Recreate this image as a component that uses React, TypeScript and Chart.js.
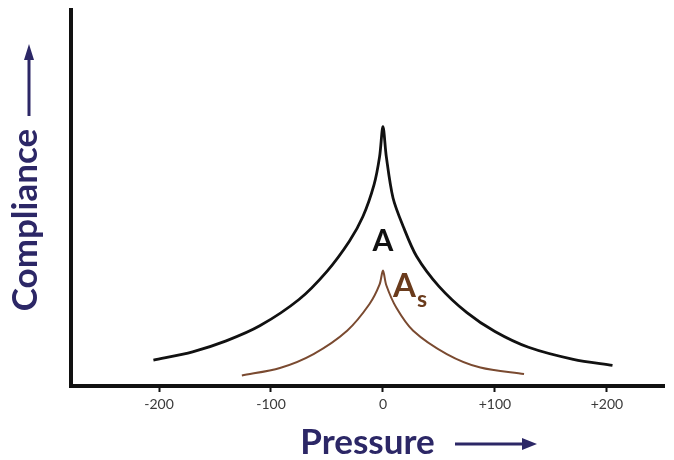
import React, { useEffect, useRef } from "react";
import { Chart, registerables } from "chart.js";

Chart.register(...registerables);

// Curve A (black)
const curveAPressure = [-205, -170, -140, -110, -75, -50, -30, -18, -8, -3, 0, 3, 9, 18, 30, 50, 75, 100, 130, 170, 205];
const curveACompliance = [6.9, 9.1, 12, 16, 23, 30.5, 38.5, 45, 53.5, 61, 69, 61, 50, 42.5, 34.5, 26.5, 19.5, 14.5, 10.3, 7.1, 5.5];

// Curve As (brown)
const curveAsPressure = [-126, -92, -62, -32, -12, -3, 0, 3, 12, 27, 57, 87, 126];
const curveAsCompliance = [2.8, 4.8, 8.5, 14.7, 21.8, 27, 30.7, 26.8, 20.8, 14.7, 8.5, 4.9, 3.2];

// Axis ticks
const tickValues = [-200, -100, 0, 100, 200];
const tickLabels = ["-200", "-100", "0", "+100", "+200"];

const xTitle = "Pressure";
const yTitle = "Compliance";
const labelA = { text: "A", x: 0, y: 38.5 };
const labelAs = { text: "A", sub: "s", x: 9, y: 26.5 };

const NAVY = "#2c2766";
const BROWN_LINE = "#7a4a30";
const BROWN_TEXT = "#6a3b1c";

const decorPlugin = {
  id: "decor",
  afterDraw(chart: any) {
    const ctx = chart.ctx;
    const xs = chart.scales.x;
    const ys = chart.scales.y;
    ctx.save();
    // Y axis title
    ctx.fillStyle = NAVY;
    ctx.font = "bold 35px Lato";
    ctx.textAlign = "center";
    ctx.textBaseline = "alphabetic";
    ctx.translate(37, 220);
    ctx.rotate(-Math.PI / 2);
    ctx.fillText(yTitle, 0, 0);
    ctx.restore();

    // arrows
    ctx.save();
    ctx.strokeStyle = NAVY;
    ctx.fillStyle = NAVY;
    ctx.lineWidth = 3;
    // up arrow
    ctx.beginPath();
    ctx.moveTo(29, 116);
    ctx.lineTo(29, 56);
    ctx.stroke();
    ctx.beginPath();
    ctx.moveTo(29, 44);
    ctx.lineTo(24, 60);
    ctx.lineTo(34, 60);
    ctx.closePath();
    ctx.fill();
    // right arrow
    ctx.beginPath();
    ctx.moveTo(455, 444);
    ctx.lineTo(526, 444);
    ctx.stroke();
    ctx.beginPath();
    ctx.moveTo(537, 444);
    ctx.lineTo(522, 438);
    ctx.lineTo(522, 450);
    ctx.closePath();
    ctx.fill();
    ctx.restore();

    // curve labels
    ctx.save();
    ctx.fillStyle = "#111";
    ctx.font = "bold 30px Lato";
    ctx.textAlign = "center";
    ctx.textBaseline = "middle";
    ctx.fillText(labelA.text, xs.getPixelForValue(labelA.x), ys.getPixelForValue(labelA.y));
    ctx.fillStyle = BROWN_TEXT;
    ctx.font = "bold 33px Lato";
    ctx.textAlign = "left";
    const ax = xs.getPixelForValue(labelAs.x);
    const ay = ys.getPixelForValue(labelAs.y);
    ctx.fillText(labelAs.text, ax, ay);
    const w = ctx.measureText(labelAs.text).width;
    ctx.font = "bold 23px Lato";
    ctx.fillText(labelAs.sub, ax + w + 1, ay + 13);
    ctx.restore();
  },
};

export default function App() {
  const ref = useRef<HTMLCanvasElement | null>(null);
  useEffect(() => {
    if (!ref.current) return;
    const chart = new Chart(ref.current, {
      type: "line",
      data: {
        datasets: [
          {
            label: "A",
            data: curveAPressure.map((x, i) => ({ x, y: curveACompliance[i] })),
            borderColor: "#111111",
            borderWidth: 2.8,
            pointRadius: 0,
            tension: 0.3,
            fill: false,
          },
          {
            label: "As",
            data: curveAsPressure.map((x, i) => ({ x, y: curveAsCompliance[i] })),
            borderColor: BROWN_LINE,
            borderWidth: 2,
            pointRadius: 0,
            tension: 0.3,
            fill: false,
          },
        ],
      },
      options: {
        animation: false,
        responsive: false,
        events: [],
        layout: { padding: { top: 10, right: 10, left: 0, bottom: 0 } },
        plugins: { legend: { display: false }, tooltip: { enabled: false } },
        scales: {
          x: {
            type: "linear",
            min: -278.6,
            max: 251,
            afterFit: (s: any) => {
              s.height = 74;
            },
            afterBuildTicks: (s: any) => {
              s.ticks = tickValues.map((v) => ({ value: v }));
            },
            ticks: {
              autoSkip: false,
              maxRotation: 0,
              padding: 4,
              color: "#3a3a3a",
              font: { family: "Lato", size: 14 },
              callback: (v: any) => tickLabels[tickValues.indexOf(Number(v))] ?? "",
            },
            grid: {
              display: true,
              drawOnChartArea: false,
              drawTicks: true,
              tickLength: 6,
              tickWidth: 2,
              tickColor: "#111",
            },
            border: { display: true, width: 4, color: "#111" },
            title: {
              display: true,
              text: xTitle,
              color: NAVY,
              font: { family: "Lato", size: 35, weight: "bold", lineHeight: 1 },
              padding: { top: 0, bottom: 0 },
            },
          },
          y: {
            type: "linear",
            min: 0,
            max: 100,
            afterFit: (s: any) => {
              s.width = 71;
            },
            ticks: { display: false },
            grid: { display: false },
            border: { display: true, width: 4, color: "#111" },
          },
        },
      },
      plugins: [decorPlugin],
    });
    return () => chart.destroy();
  }, []);
  return (
    <div style={{ position: "absolute", left: 0, top: 0, width: 674, height: 460, background: "#fff" }}>
      <canvas ref={ref} width={674} height={460} />
    </div>
  );
}
